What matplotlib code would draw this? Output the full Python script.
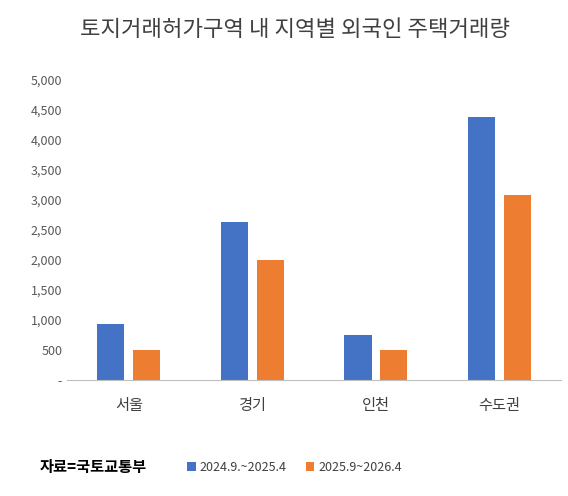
import matplotlib
matplotlib.use("Agg")
import matplotlib.pyplot as plt
import numpy as np

plt.rcParams['font.family'] = ['Noto Sans CJK KR', 'DejaVu Sans']

categories = ['서울', '경기', '인천', '수도권']
series1_name = '2024.9.~2025.4'
series2_name = '2025.9~2026.4'
series1 = [930, 2630, 750, 4380]
series2 = [500, 2000, 500, 3080]
yticks = [0, 500, 1000, 1500, 2000, 2500, 3000, 3500, 4000, 4500, 5000]
ytick_labels = ['-', '500', '1,000', '1,500', '2,000', '2,500', '3,000', '3,500', '4,000', '4,500', '5,000']

fig = plt.figure(figsize=(5.68, 4.96), dpi=100)
ax = fig.add_axes([0.118, 0.234, 0.87, 0.605])
x = np.arange(len(categories))
w = 0.22
b1 = ax.bar(x - 0.145, series1, w, color='#4472C4', label=series1_name)
b2 = ax.bar(x + 0.145, series2, w, color='#ED7D31', label=series2_name)
ax.set_ylim(0, 5000)
ax.set_xlim(-0.5, 3.5)
ax.set_yticks(yticks)
ax.set_yticklabels(ytick_labels, fontsize=9, color='#595959')
ax.set_xticks(x)
ax.set_xticklabels(categories, fontsize=11, color='#404040')
ax.tick_params(length=0)
ax.tick_params(axis='x', pad=12)
for s in ['top', 'right', 'left']:
    ax.spines[s].set_visible(False)
ax.spines['bottom'].set_color('#BFBFBF')

fig.text(0.52, 0.94, '토지거래허가구역 내 지역별 외국인 주택거래량', ha='center', va='center',
         fontsize=16, color='#404040')
fig.text(0.07, 0.058, '자료=국토교통부', ha='left', va='center', fontsize=11, fontweight='bold')
fig.legend(handles=[b1, b2], loc='center left', bbox_to_anchor=(0.31, 0.058), ncol=2,
           frameon=False, fontsize=9, handlelength=0.7, handleheight=0.7,
           columnspacing=1.5, handletextpad=0.3, labelcolor='#404040')
fig.savefig('out.png', dpi=100)
